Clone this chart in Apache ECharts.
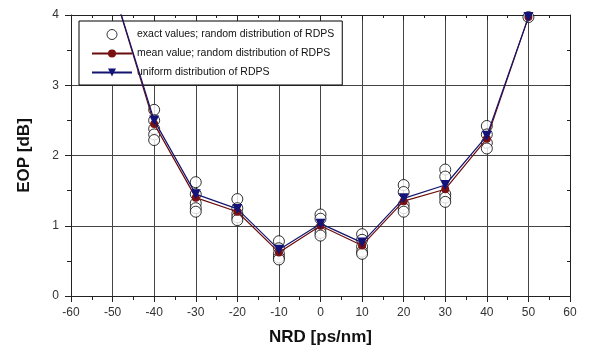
<!DOCTYPE html>
<html>
<head>
<meta charset="utf-8">
<script src="https://cdn.jsdelivr.net/npm/echarts@6/dist/echarts.min.js"></script>
<style>html,body{margin:0;padding:0;background:#fff}#c{width:590px;height:355px}</style>
</head>
<body>
<div id="c"></div>
<script>
// NRD positions (ps/nm)
const nrd = [-50, -40, -30, -20, -10, 0, 10, 20, 30, 40, 50];
// exact values for each NRD (random distribution of RDPS)
const exactVals = [
  [],
  [2.65, 2.5, 2.38, 2.3, 2.22],
  [1.62, 1.45, 1.32, 1.25, 1.2],
  [1.38, 1.25, 1.17, 1.12, 1.08],
  [0.78, 0.68, 0.6, 0.55, 0.52],
  [1.16, 1.1, 0.96, 0.9, 0.86],
  [0.88, 0.8, 0.7, 0.63, 0.6],
  [1.58, 1.48, 1.3, 1.25, 1.2],
  [1.8, 1.7, 1.45, 1.4, 1.34],
  [2.42, 2.3, 2.18, 2.1],
  [3.97]
];
const meanVals = [4.4, 2.45, 1.4, 1.2, 0.62, 1.0, 0.72, 1.35, 1.52, 2.24, 3.97];
const uniformVals = [4.4, 2.5, 1.45, 1.24, 0.66, 1.03, 0.76, 1.39, 1.58, 2.28, 3.97];
const xTicks = [-60, 60, 10];
const yTicks = [0, 4, 1];

const exactData = [];
nrd.forEach((x, i) => exactVals[i].forEach(v => exactData.push([x, v])));
const meanData = nrd.map((x, i) => [x, meanVals[i]]);
const uniData = nrd.map((x, i) => [x, uniformVals[i]]);

const chart = echarts.init(document.getElementById('c'), null, {renderer: 'canvas'});
const lab = {color: '#333', fontFamily: 'Arial, Liberation Sans', fontSize: 12};
const lineC = '#222';
chart.setOption({
  animation: false,
  backgroundColor: '#fff',
  grid: {left: 71, right: 20, top: 15, bottom: 59},
  legend: {
    orient: 'vertical', left: 79, top: 21,
    backgroundColor: '#fff', borderColor: '#000', borderWidth: 1,
    padding: [8, 8, 7, 12], itemGap: 8, itemWidth: 40, itemHeight: 10,
    textStyle: {fontFamily: 'Arial, Liberation Sans', fontSize: 10.5, color: '#111'},
    data: [
      {name: 'exact values; random distribution of RDPS', itemStyle: {color: '#fff', borderColor: '#000', borderWidth: 1}},
      'mean value; random distribution of RDPS',
      'uniform distribution of RDPS'
    ]
  },
  xAxis: [{
    type: 'value', min: xTicks[0], max: xTicks[1], interval: xTicks[2],
    name: 'NRD [ps/nm]', nameLocation: 'middle', nameGap: 33,
    nameTextStyle: {fontFamily: 'Arial, Liberation Sans', fontWeight: 'bold', fontSize: 17, color: '#111'},
    axisLine: {onZero: false, lineStyle: {color: lineC, width: 1}},
    axisTick: {length: 6, lineStyle: {color: lineC}},
    minorTick: {show: true, splitNumber: 2, length: 4, lineStyle: {color: lineC}},
    axisLabel: Object.assign({margin: 11}, lab),
    splitLine: {show: true, lineStyle: {color: '#444', width: 1}}
  }, {
    type: 'value', position: 'top', min: xTicks[0], max: xTicks[1], interval: xTicks[2],
    axisLine: {show: true, onZero: false, lineStyle: {color: lineC}},
    axisTick: {inside: true, length: 5, lineStyle: {color: lineC}},
    minorTick: {show: true, splitNumber: 2, length: 3, lineStyle: {color: lineC}},
    axisLabel: {show: false}, splitLine: {show: false}
  }],
  yAxis: [{
    type: 'value', min: yTicks[0], max: yTicks[1], interval: yTicks[2],
    name: 'EOP [dB]', nameLocation: 'middle', nameGap: 38, nameRotate: 90,
    nameTextStyle: {fontFamily: 'Arial, Liberation Sans', fontWeight: 'bold', fontSize: 17, color: '#111'},
    axisLine: {show: true, onZero: false, lineStyle: {color: lineC}},
    axisTick: {length: 6, lineStyle: {color: lineC}},
    minorTick: {show: true, splitNumber: 2, length: 4, lineStyle: {color: lineC}},
    axisLabel: Object.assign({margin: 12}, lab),
    splitLine: {show: true, lineStyle: {color: '#444', width: 1}}
  }, {
    type: 'value', position: 'right', min: yTicks[0], max: yTicks[1], interval: yTicks[2],
    axisLine: {show: true, onZero: false, lineStyle: {color: lineC}},
    axisTick: {inside: true, length: 5, lineStyle: {color: lineC}},
    minorTick: {show: true, splitNumber: 2, length: 3, lineStyle: {color: lineC}},
    axisLabel: {show: false}, splitLine: {show: false}
  }],
  series: [{
    name: 'exact values; random distribution of RDPS',
    type: 'scatter', data: exactData, symbol: 'circle', symbolSize: 11, z: 3,
    itemStyle: {color: '#fff', borderColor: '#000', borderWidth: 1}
  }, {
    name: 'mean value; random distribution of RDPS',
    type: 'line', data: meanData, symbol: 'circle', symbolSize: 8, z: 4, clip: true,
    lineStyle: {color: '#6b0d0d', width: 1.2}, itemStyle: {color: '#7a1010'}
  }, {
    name: 'uniform distribution of RDPS',
    type: 'line', data: uniData, symbol: 'triangle', symbolRotate: 180, symbolSize: 10, z: 5, clip: true,
    lineStyle: {color: '#14146e', width: 1.2}, itemStyle: {color: '#13137a'}
  }]
});
</script>
</body>
</html>
